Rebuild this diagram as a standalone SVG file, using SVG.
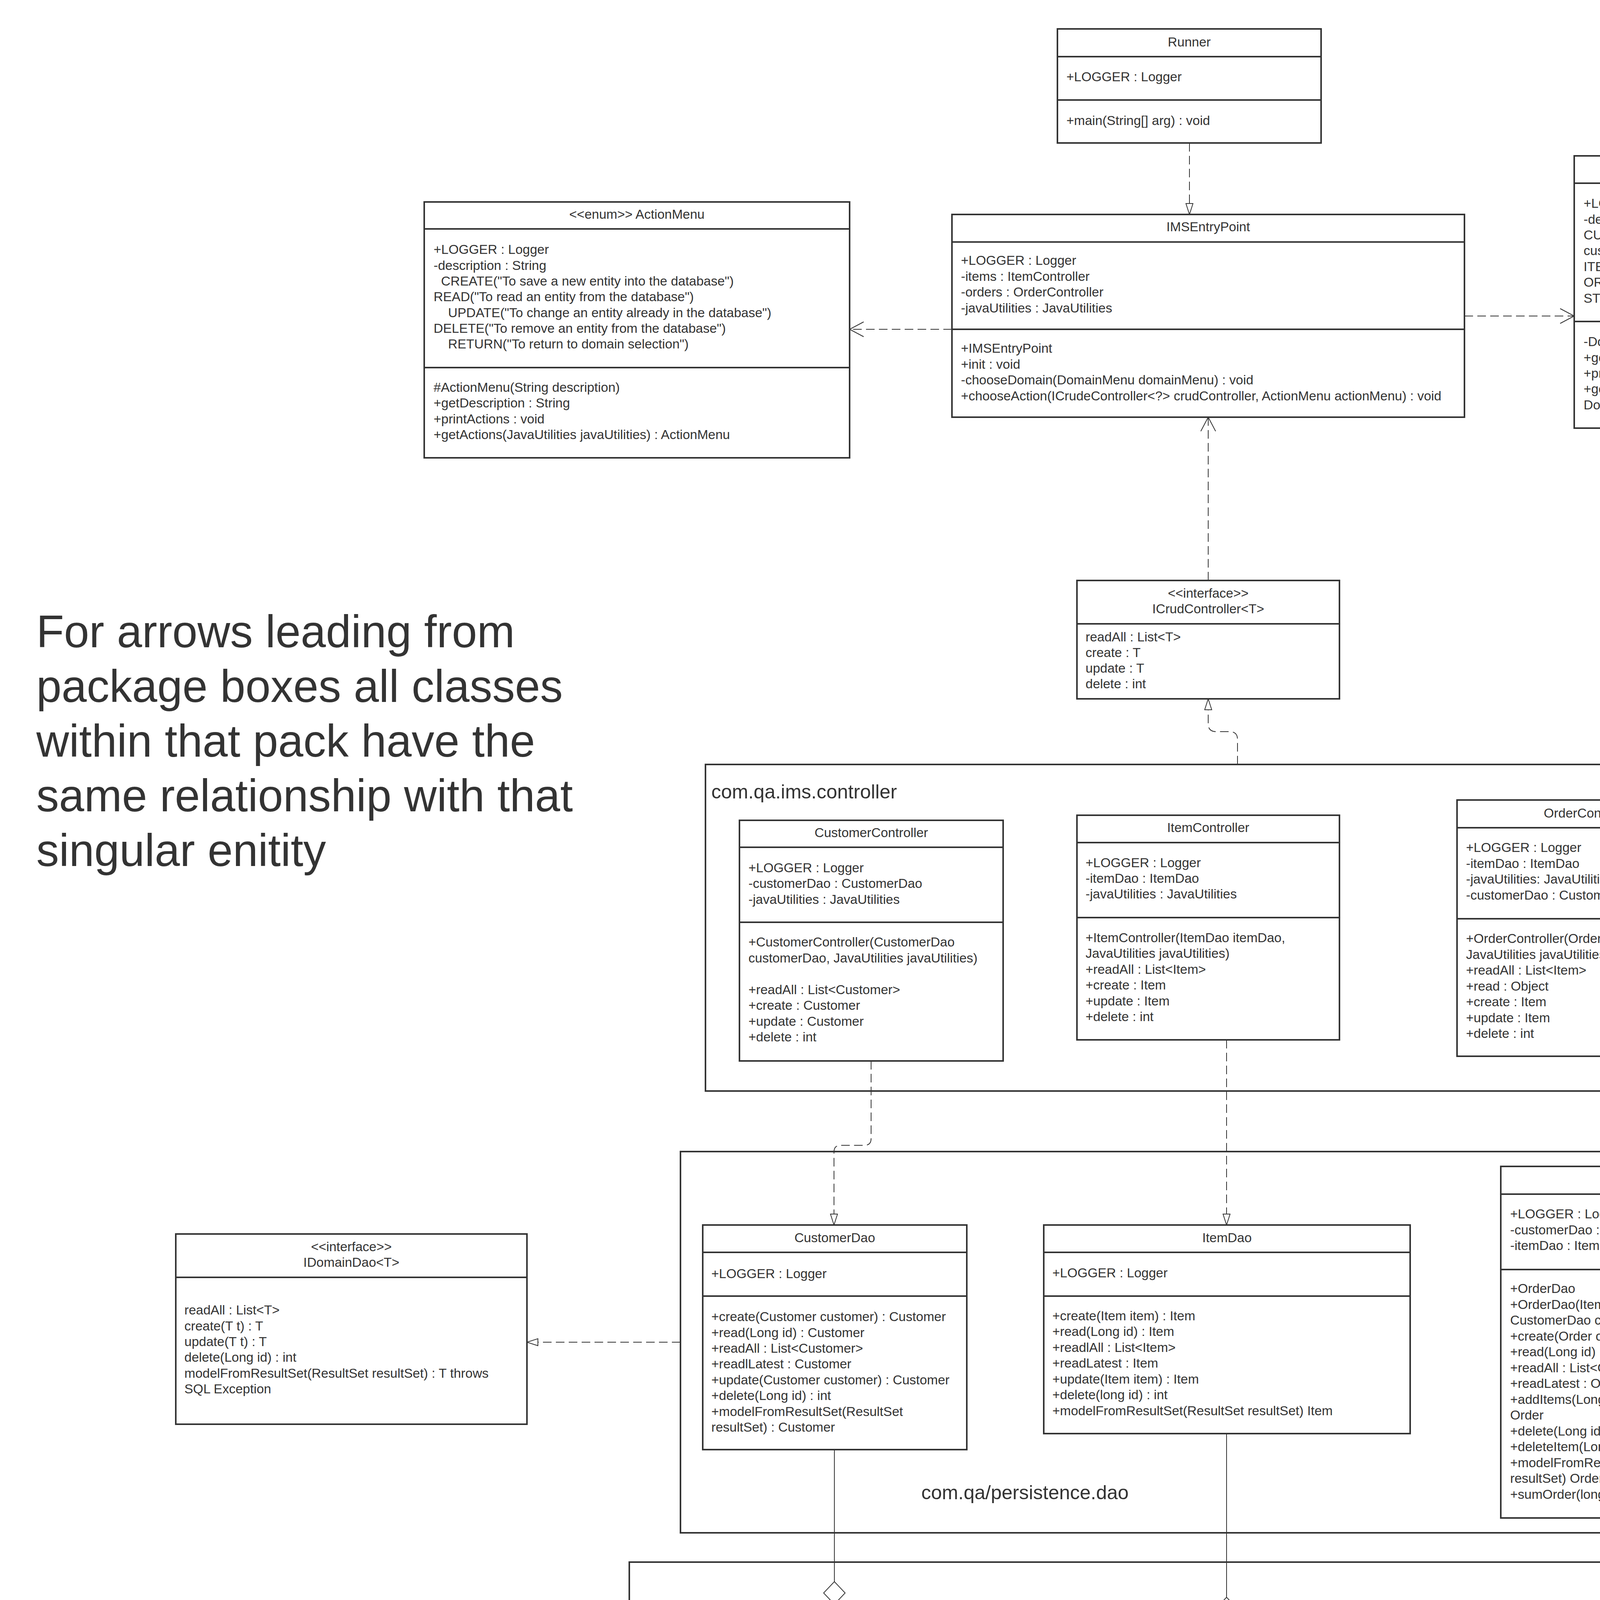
<svg xmlns="http://www.w3.org/2000/svg" width="5813" height="4974" viewBox="0 0 5813 4974">
<style>
.bx{fill:#fff;stroke:#333;stroke-width:4}
.pk{fill:none;stroke:#333;stroke-width:4}
.ln{stroke:#333;stroke-width:4}
text{font-family:"Liberation Sans",Arial,sans-serif;font-size:33.5px;fill:#333}
.c{text-anchor:middle}
.b{font-weight:bold}
.pl{font-size:50px}
.note{font-size:116px}
.d{fill:none;stroke:#333;stroke-width:2;stroke-dasharray:22 11}
.s{fill:none;stroke:#333;stroke-width:2}
.dm{fill:#fff;stroke:#333;stroke-width:2}
</style>
<defs>
<marker id="tri" markerUnits="userSpaceOnUse" markerWidth="32" markerHeight="22" refX="29" refY="10" orient="auto">
<path d="M1,1 L29,10 L1,19 Z" fill="#fff" stroke="#333" stroke-width="2"/>
</marker>
<marker id="vee" markerUnits="userSpaceOnUse" markerWidth="40" markerHeight="42" refX="37" refY="20" orient="auto">
<path d="M1,1 L37,20 L1,39" fill="none" stroke="#333" stroke-width="2"/>
</marker>
</defs>
<rect width="5813" height="4974" fill="#fff"/>

<g id="note">
<text class="note" x="93" y="1657">For arrows leading from</text>
<text class="note" x="93" y="1797">package boxes all classes</text>
<text class="note" x="93" y="1937">within that pack have the</text>
<text class="note" x="93" y="2077">same relationship with that</text>
<text class="note" x="93" y="2217">singular enitity</text>
</g>

<g id="pkg-controller">
<rect class="pk" x="1806" y="1957" width="2730" height="836"/>
<text class="pl" x="1821" y="2044">com.qa.ims.controller</text>
</g>
<g id="pkg-dao">
<rect class="pk" x="1742" y="2948" width="2852" height="976"/>
<text class="pl c" x="2624" y="3838">com.qa/persistence.dao</text>
</g>
<g id="pkg-entity">
<rect class="pk" x="1611" y="3999" width="3112" height="900"/>
<text class="pl c" x="2886" y="4849">com.qa.ims.presistence.dao</text>
</g>

<g id="connectors">
<path class="d" d="M3045,366 V549" marker-end="url(#tri)"/>
<path class="d" d="M2437,843 H2175" marker-end="url(#vee)"/>
<path class="d" d="M3749,809 H4030" marker-end="url(#vee)"/>
<path class="d" d="M3093,1486 V1068" marker-end="url(#vee)"/>
<path class="d" d="M3168,1957 V1893 Q3168,1873 3148,1873 H3113 Q3093,1873 3093,1853 V1789" marker-end="url(#tri)"/>
<path class="s" d="M4536,2375 H4814"/>
<polygon class="dm" points="4814,2375 4843,2348 4872,2375 4843,2402"/>
<path class="d" d="M2230,2716 V2915 Q2230,2932 2213,2932 H2152 Q2135,2932 2135,2949 V3136" marker-end="url(#tri)"/>
<path class="d" d="M3140,2662 V3136" marker-end="url(#tri)"/>
<path class="d" d="M4180,2704 V2986" marker-end="url(#tri)"/>
<path class="d" d="M1742,3436 H1349" marker-end="url(#tri)"/>
<path class="s" d="M2136,3711 V4049"/>
<polygon class="dm" points="2136,4049 2163.5,4078 2136,4107 2108.5,4078"/>
<path class="s" d="M3140,3670 V4089"/>
<polygon class="dm" points="3140,4089 3167.5,4118 3140,4147 3112.5,4118"/>
<path class="s" d="M4180,3885 V4049"/>
<polygon class="dm" points="4180,4049 4207.5,4078 4180,4107 4152.5,4078"/>
<path class="d" d="M4723,4449 H4874 Q4892,4449 4892,4467 Q4892,4485 4910,4485 H5062" marker-end="url(#vee)"/>
</g>

<g id="n-runner">
<rect class="bx" x="2707" y="74" width="675" height="292"/>
<line class="ln" x1="2707" y1="145" x2="3382" y2="145"/>
<line class="ln" x1="2707" y1="256" x2="3382" y2="256"/>
<text class="c" x="3044.5" y="119">Runner</text>
<text x="2730" y="208">+LOGGER : Logger</text>
<text x="2730" y="320">+main(String[] arg) : void</text>
</g>

<g id="n-imsentry">
<rect class="bx" x="2437" y="549" width="1312" height="519"/>
<line class="ln" x1="2437" y1="619.5" x2="3749" y2="619.5"/>
<line class="ln" x1="2437" y1="843" x2="3749" y2="843"/>
<text class="c" x="3093" y="592">IMSEntryPoint</text>
<text x="2460" y="678">+LOGGER : Logger</text>
<text x="2460" y="719">-items : ItemController</text>
<text x="2460" y="759">-orders : OrderController</text>
<text x="2460" y="800">-javaUtilities : JavaUtilities</text>
<text x="2460" y="903">+IMSEntryPoint</text>
<text x="2460" y="944">+init : void</text>
<text x="2460" y="984">-chooseDomain(DomainMenu domainMenu) : void</text>
<text x="2460" y="1025">+chooseAction(ICrudeController&lt;?&gt; crudController, ActionMenu actionMenu) : void</text>
</g>

<g id="n-actionmenu">
<rect class="bx" x="1086" y="517" width="1089" height="655"/>
<line class="ln" x1="1086" y1="586" x2="2175" y2="586"/>
<line class="ln" x1="1086" y1="941" x2="2175" y2="941"/>
<text class="c" x="1630.5" y="560">&lt;&lt;enum&gt;&gt; ActionMenu</text>
<text x="1110" y="650">+LOGGER : Logger</text>
<text x="1110" y="690.5">-description : String</text>
<text x="1129" y="731">CREATE("To save a new entity into the database")</text>
<text x="1110" y="771">READ("To read an entity from the database")</text>
<text x="1147" y="812">UPDATE("To change an entity already in the database")</text>
<text x="1110" y="852">DELETE("To remove an entity from the database")</text>
<text x="1147" y="892">RETURN("To return to domain selection")</text>
<text x="1110" y="1003">#ActionMenu(String description)</text>
<text x="1110" y="1043">+getDescription : String</text>
<text x="1110" y="1084">+printActions : void</text>
<text x="1110" y="1124">+getActions(JavaUtilities javaUtilities) : ActionMenu</text>
</g>

<g id="n-domainmenu">
<rect class="bx" x="4030" y="399" width="676" height="697"/>
<line class="ln" x1="4030" y1="469" x2="4706" y2="469"/>
<line class="ln" x1="4030" y1="823" x2="4706" y2="823"/>
<text class="c" x="4368" y="443">&lt;&lt;enum&gt;&gt; DomainMenu</text>
<text x="4054" y="532">+LOGGER : Logger</text>
<text x="4054" y="572.5">-description : String</text>
<text x="4054" y="613">CUSTOMER("Information about</text>
<text x="4054" y="653">customers")</text>
<text x="4054" y="694">ITEM("Individual Items")</text>
<text x="4054" y="734">ORDER("Purchases of items")</text>
<text x="4054" y="775">STOP("To close the application")</text>
<text x="4054" y="886">-DomainMenu(String description)</text>
<text x="4054" y="926.5">+getDescription : String</text>
<text x="4054" y="967">+printDomains : void</text>
<text x="4054" y="1007">+getDomainJavaUtilities javaUtilities) :</text>
<text x="4054" y="1048">DomainMenu</text>
</g>

<g id="n-icrud">
<rect class="bx" x="2757" y="1486" width="672" height="303"/>
<line class="ln" x1="2757" y1="1597" x2="3429" y2="1597"/>
<text class="c" x="3093" y="1530">&lt;&lt;interface&gt;&gt;</text>
<text class="c" x="3093" y="1570">ICrudController&lt;T&gt;</text>
<text x="2779" y="1642">readAll : List&lt;T&gt;</text>
<text x="2779" y="1682">create : T</text>
<text x="2779" y="1722">update : T</text>
<text x="2779" y="1762">delete : int</text>
</g>

<g id="n-customercontroller">
<rect class="bx" x="1893" y="2100" width="675" height="616"/>
<line class="ln" x1="1893" y1="2169" x2="2568" y2="2169"/>
<line class="ln" x1="1893" y1="2361" x2="2568" y2="2361"/>
<text class="c" x="2230.5" y="2143">CustomerController</text>
<text x="1916" y="2233">+LOGGER : Logger</text>
<text x="1916" y="2273">-customerDao : CustomerDao</text>
<text x="1916" y="2314">-javaUtilities : JavaUtilities</text>
<text x="1916" y="2423">+CustomerController(CustomerDao</text>
<text x="1916" y="2464">customerDao, JavaUtilities javaUtilities)</text>
<text x="1916" y="2545">+readAll : List&lt;Customer&gt;</text>
<text x="1916" y="2585">+create : Customer</text>
<text x="1916" y="2626">+update : Customer</text>
<text x="1916" y="2666">+delete : int</text>
</g>

<g id="n-itemcontroller">
<rect class="bx" x="2757" y="2087" width="672" height="575"/>
<line class="ln" x1="2757" y1="2157" x2="3429" y2="2157"/>
<line class="ln" x1="2757" y1="2349" x2="3429" y2="2349"/>
<text class="c" x="3093" y="2130">ItemController</text>
<text x="2779" y="2220">+LOGGER : Logger</text>
<text x="2779" y="2260">-itemDao : ItemDao</text>
<text x="2779" y="2300">-javaUtilities : JavaUtilities</text>
<text x="2779" y="2412">+ItemController(ItemDao itemDao,</text>
<text x="2779" y="2452">JavaUtilities javaUtilities)</text>
<text x="2779" y="2493">+readAll : List&lt;Item&gt;</text>
<text x="2779" y="2533">+create : Item</text>
<text x="2779" y="2574">+update : Item</text>
<text x="2779" y="2614">+delete : int</text>
</g>

<g id="n-ordercontroller">
<rect class="bx" x="3730" y="2048" width="675" height="656"/>
<line class="ln" x1="3730" y1="2119" x2="4405" y2="2119"/>
<line class="ln" x1="3730" y1="2352" x2="4405" y2="2352"/>
<text class="c" x="4067.5" y="2093">OrderController</text>
<text x="3753" y="2181">+LOGGER : Logger</text>
<text x="3753" y="2221.5">-itemDao : ItemDao</text>
<text x="3753" y="2262">-javaUtilities: JavaUtilities</text>
<text x="3753" y="2302.5">-customerDao : CustomerDao</text>
<text x="3753" y="2414">+OrderController(OrderDao orderDao,</text>
<text x="3753" y="2454.5">JavaUtilities javaUtilities)</text>
<text x="3753" y="2495">+readAll : List&lt;Item&gt;</text>
<text x="3753" y="2535.5">+read : Object</text>
<text x="3753" y="2576">+create : Item</text>
<text x="3753" y="2616.5">+update : Item</text>
<text x="3753" y="2657">+delete : int</text>
</g>

<g id="n-javautil">
<rect class="bx" x="4874" y="2136" width="675" height="496"/>
<line class="ln" x1="4874" y1="2207" x2="5549" y2="2207"/>
<line class="ln" x1="4874" y1="2359" x2="5549" y2="2359"/>
<text class="c" x="5211.5" y="2181">JavaUtilitites</text>
<text x="4898" y="2271">-LOGGER : Logger</text>
<text x="4898" y="2311">-scanner : Scanner</text>
<text x="4898" y="2422">+JavaUtilities(Scanner scanner)</text>
<text x="4898" y="2462">+JavaUtilities</text>
<text x="4898" y="2502">+getLong : Long</text>
<text x="4898" y="2542.5">+getString : String</text>
<text x="4898" y="2583">+getDouble : Double</text>
</g>

<g id="n-idomaindao">
<rect class="bx" x="450" y="3159" width="899" height="487"/>
<line class="ln" x1="450" y1="3270" x2="1349" y2="3270"/>
<text class="c" x="899.5" y="3203">&lt;&lt;interface&gt;&gt;</text>
<text class="c" x="899.5" y="3243">IDomainDao&lt;T&gt;</text>
<text x="472" y="3365">readAll : List&lt;T&gt;</text>
<text x="472" y="3406">create(T t) : T</text>
<text x="472" y="3446">update(T t) : T</text>
<text x="472" y="3486">delete(Long id) : int</text>
<text x="472" y="3527">modelFromResultSet(ResultSet resultSet) : T throws</text>
<text x="472" y="3567">SQL Exception</text>
</g>

<g id="n-customerdao">
<rect class="bx" x="1799" y="3136" width="676" height="575"/>
<line class="ln" x1="1799" y1="3206" x2="2475" y2="3206"/>
<line class="ln" x1="1799" y1="3318" x2="2475" y2="3318"/>
<text class="c" x="2137" y="3180">CustomerDao</text>
<text x="1821" y="3272">+LOGGER : Logger</text>
<text x="1821" y="3382">+create(Customer customer) : Customer</text>
<text x="1821" y="3422.5">+read(Long id) : Customer</text>
<text x="1821" y="3463">+readAll : List&lt;Customer&gt;</text>
<text x="1821" y="3503">+readlLatest : Customer</text>
<text x="1821" y="3544">+update(Customer customer) : Customer</text>
<text x="1821" y="3584">+delete(Long id) : int</text>
<text x="1821" y="3625">+modelFromResultSet(ResultSet</text>
<text x="1821" y="3665">resultSet) : Customer</text>
</g>

<g id="n-itemdao">
<rect class="bx" x="2672" y="3136" width="938" height="534"/>
<line class="ln" x1="2672" y1="3206" x2="3610" y2="3206"/>
<line class="ln" x1="2672" y1="3318" x2="3610" y2="3318"/>
<text class="c" x="3141" y="3180">ItemDao</text>
<text x="2694" y="3270">+LOGGER : Logger</text>
<text x="2694" y="3380">+create(Item item) : Item</text>
<text x="2694" y="3420">+read(Long id) : Item</text>
<text x="2694" y="3461">+readlAll : List&lt;Item&gt;</text>
<text x="2694" y="3501">+readLatest : Item</text>
<text x="2694" y="3542">+update(Item item) : Item</text>
<text x="2694" y="3582">+delete(long id) : int</text>
<text x="2694" y="3623">+modelFromResultSet(ResultSet resultSet) Item</text>
</g>

<g id="n-orderdao">
<rect class="bx" x="3842" y="2986" width="676" height="900"/>
<line class="ln" x1="3842" y1="3057" x2="4518" y2="3057"/>
<line class="ln" x1="3842" y1="3250" x2="4518" y2="3250"/>
<text class="c" x="4180" y="3029">OrderDao</text>
<text x="3866" y="3119">+LOGGER : Logger</text>
<text x="3866" y="3160">-customerDao : CustomerDao</text>
<text x="3866" y="3200">-itemDao : ItemDao</text>
<text x="3866" y="3310">+OrderDao</text>
<text x="3866" y="3350.5">+OrderDao(ItemDao itemDao,</text>
<text x="3866" y="3391">CustomerDao customerDao)</text>
<text x="3866" y="3431.5">+create(Order order) Order</text>
<text x="3866" y="3472">+read(Long id) : Order</text>
<text x="3866" y="3512.5">+readAll : List&lt;Order&gt;</text>
<text x="3866" y="3553">+readLatest : Order</text>
<text x="3866" y="3593.5">+addItems(Long orderId, Long itemId) :</text>
<text x="3866" y="3634">Order</text>
<text x="3866" y="3674.5">+delete(Long id) : int</text>
<text x="3866" y="3715">+deleteItem(Long id, long orderId) : Order</text>
<text x="3866" y="3755.5">+modelFromResultSet(ResultSet</text>
<text x="3866" y="3796">resultSet) Order</text>
<text x="3866" y="3836.5">+sumOrder(long orderId) : double</text>
</g>

<g id="n-customer">
<rect class="bx" x="1687" y="4109" width="899" height="698"/>
<line class="ln" x1="1687" y1="4180" x2="2586" y2="4180"/>
<line class="ln" x1="1687" y1="4412" x2="2586" y2="4412"/>
<text class="c" x="2136.5" y="4154">Customer</text>
<text x="1710" y="4262">-id : Long</text>
<text x="1710" y="4303">-firstName : String</text>
<text x="1710" y="4343">-surname: String</text>
<text x="1710" y="4496">+Customer(String firstName, String surname)</text>
<text x="1710" y="4536.5">+Customer(Long id, String firstName, String surname)</text>
<text x="1710" y="4577">+getters : Respective type</text>
<text x="1710" y="4617.5">+setters : Respective type</text>
<text x="1710" y="4658">+toString : String</text>
<text x="1710" y="4698.5">+hashCode : int</text>
<text x="1710" y="4739">+equals(Object obj) : void</text>
</g>

<g id="n-item">
<rect class="bx" x="2803" y="4148" width="674" height="618"/>
<line class="ln" x1="2803" y1="4219" x2="3477" y2="4219"/>
<line class="ln" x1="2803" y1="4410" x2="3477" y2="4410"/>
<text class="c" x="3140" y="4193">Item</text>
<text x="2827" y="4283">-id : Long</text>
<text x="2827" y="4323.5">-name : String</text>
<text x="2827" y="4364">-price : double</text>
<text x="2827" y="4473">+Item(String name, double price)</text>
<text x="2827" y="4513.5">+Item(Long id, String name, double price)</text>
<text x="2827" y="4554">+getters : Respective type</text>
<text x="2827" y="4594.5">+setters : Respective type</text>
<text x="2827" y="4635">+toString : String</text>
<text x="2827" y="4675.5">+hashCode : int</text>
<text x="2827" y="4716">+equals(Object obj) : bool</text>
</g>

<g id="n-order">
<rect class="bx" x="3731" y="4109" width="901" height="694"/>
<line class="ln" x1="3731" y1="4180" x2="4632" y2="4180"/>
<line class="ln" x1="3731" y1="4409" x2="4632" y2="4409"/>
<text class="c b" x="4181.5" y="4154">Order</text>
<text x="3755" y="4241">-id : Long</text>
<text x="3755" y="4281.5">-customer : Customer</text>
<text x="3755" y="4322">- value : double</text>
<text x="3755" y="4362.5">-items : List&lt;items&gt;</text>
<text x="3755" y="4473">+ Order(Long id, Customer customer, List&lt;Items&gt; items)</text>
<text x="3755" y="4513.5">+Order(Customer customer, double value)</text>
<text x="3755" y="4554">+ Order(Customer customer)</text>
<text x="3755" y="4594.5">+getters : Respective type</text>
<text x="3755" y="4635">+setters : Respective type</text>
<text x="3755" y="4675.5">+toString : String</text>
<text x="3755" y="4716">+hashCode : int</text>
<text x="3755" y="4756.5">+equals(Object object) : bool</text>
</g>

<g id="n-dbutil">
<rect class="bx" x="5062" y="4053" width="675" height="819"/>
<line class="ln" x1="5062" y1="4124" x2="5737" y2="4124"/>
<line class="ln" x1="5062" y1="4396.5" x2="5737" y2="4396.5"/>
<text class="c" x="5399.5" y="4097">DataBaseUtilties</text>
<text x="5084" y="4187">-LOGGER : Logger</text>
<text x="5084" y="4227">-dbUrl : String</text>
<text x="5084" y="4267.5">-dbUser : String</text>
<text x="5084" y="4308">-dbPassword : String</text>
<text x="5084" y="4348">-instance : DatabaseUtilities</text>
<text x="5084" y="4461">-DatabaseUtilities(String properties)</text>
<text x="5084" y="4501">+DatabaseUtilities</text>
<text x="5084" y="4541.5">+init(String... paths) : int</text>
<text x="5084" y="4582">+executeSQLFile(String file) : int</text>
<text x="5084" y="4622">+getConnection : Connection throws</text>
<text x="5084" y="4662.5">SQLException</text>
<text x="5084" y="4703">+connect : DatabaseUtilities</text>
<text x="5084" y="4743">+connect(String Properties) :</text>
<text x="5084" y="4783.5">DatabaseUtilities</text>
<text x="5084" y="4824">+getInstance : DatabaseUtilities</text>
</g>
</svg>
